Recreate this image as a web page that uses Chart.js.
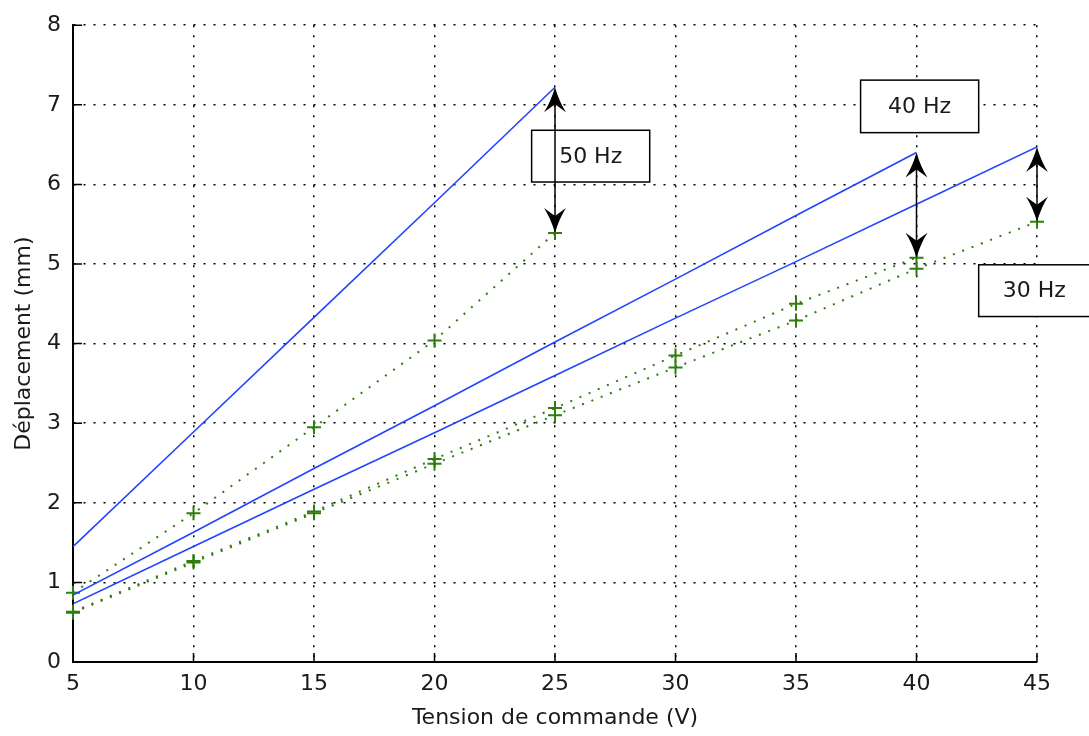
<!DOCTYPE html>
<html>
<head>
<meta charset="utf-8">
<script src="https://cdn.jsdelivr.net/npm/chart.js@4"></script>
<style>
  html, body { margin: 0; padding: 0; background: #fff; }
  #wrap { width: 1089px; height: 736px; }
</style>
</head>
<body>
<div id="wrap"><canvas id="c" width="1089" height="736"></canvas></div>
<script>
// ---- data ----
const voltages50 = [5, 10, 15, 20, 25];
const measured50 = [0.87, 1.87, 2.95, 4.04, 5.39];
const fit50      = [1.45, 2.89, 4.33, 5.77, 7.22];

const voltages40 = [5, 10, 15, 20, 25, 30, 35, 40];
const measured40 = [0.63, 1.27, 1.89, 2.55, 3.19, 3.85, 4.50, 5.08];
const fit40      = [0.84, 1.63, 2.43, 3.22, 4.02, 4.81, 5.61, 6.40];

const voltages30 = [5, 10, 15, 20, 25, 30, 35, 40, 45];
const measured30 = [0.62, 1.25, 1.87, 2.49, 3.10, 3.70, 4.29, 4.94, 5.53];
const fit30      = [0.73, 1.45, 2.17, 2.88, 3.60, 4.32, 5.03, 5.75, 6.47];

const frequencyLabels = ['50 Hz', '40 Hz', '30 Hz'];
const xTitle = 'Tension de commande (V)';
const yTitle = 'Déplacement (mm)';

const pts = (xs, ys) => xs.map((x, i) => ({ x: x, y: ys[i] }));

const BLUE = '#2244ff';
const GREEN = '#2f7d0c';
const FONT = 'DejaVu Sans';
const FS = 22;

// label boxes (data coordinates) and arrows (from fit end to measured end)
const boxes = [
  { text: frequencyLabels[0], x0: 24.03, x1: 28.93, y0: 6.03, y1: 6.68, tx: 0.5 },
  { text: frequencyLabels[1], x0: 37.68, x1: 42.58, y0: 6.65, y1: 7.31, tx: 0.5 },
  { text: frequencyLabels[2], x0: 42.58, x1: 47.60, y0: 4.34, y1: 4.99, tx: 0.46 }
];
const arrows = [
  { x: voltages50[voltages50.length - 1], yTop: fit50[fit50.length - 1], yBot: measured50[measured50.length - 1] },
  { x: voltages40[voltages40.length - 1], yTop: fit40[fit40.length - 1], yBot: measured40[measured40.length - 1] },
  { x: voltages30[voltages30.length - 1], yTop: fit30[fit30.length - 1], yBot: measured30[measured30.length - 1] }
];

const innerTicks = {
  id: 'innerTicks',
  beforeDatasetsDraw(chart) {
    const { ctx, chartArea: a, scales: { x, y } } = chart;
    ctx.save();
    ctx.setLineDash([]);
    ctx.strokeStyle = '#000';
    ctx.lineWidth = 1.5;
    ctx.beginPath();
    x.ticks.forEach(t => {
      const px = x.getPixelForValue(t.value);
      ctx.moveTo(px, a.bottom);
      ctx.lineTo(px, a.bottom - 9);
    });
    y.ticks.forEach(t => {
      const py = y.getPixelForValue(t.value);
      ctx.moveTo(a.left, py);
      ctx.lineTo(a.left + 9, py);
    });
    ctx.stroke();
    // solid left and bottom axes
    ctx.lineWidth = 2;
    ctx.beginPath();
    ctx.moveTo(a.left, a.top);
    ctx.lineTo(a.left, a.bottom);
    ctx.lineTo(a.right, a.bottom);
    ctx.stroke();
    ctx.restore();
  }
};

function drawHead(ctx, x, y, dir) {
  // dir = -1 pointing up, +1 pointing down
  const L = 25, W = 11, N = 17;
  ctx.beginPath();
  ctx.moveTo(x, y);
  ctx.quadraticCurveTo(x - W * 0.4, y - dir * L * 0.6, x - W, y - dir * L);
  ctx.lineTo(x, y - dir * N);
  ctx.lineTo(x + W, y - dir * L);
  ctx.quadraticCurveTo(x + W * 0.4, y - dir * L * 0.6, x, y);
  ctx.closePath();
  ctx.fill();
}

const annotations = {
  id: 'annotations',
  afterDatasetsDraw(chart) {
    const { ctx, scales: { x, y } } = chart;
    ctx.save();
    ctx.setLineDash([]);
    boxes.forEach(b => {
      const l = x.getPixelForValue(b.x0), r = x.getPixelForValue(b.x1);
      const t = y.getPixelForValue(b.y1), bt = y.getPixelForValue(b.y0);
      ctx.fillStyle = '#fff';
      ctx.fillRect(l, t, r - l, bt - t);
      ctx.strokeStyle = '#000';
      ctx.lineWidth = 1.5;
      ctx.strokeRect(l, t, r - l, bt - t);
      ctx.fillStyle = '#1a1a1a';
      ctx.font = FS + 'px "' + FONT + '"';
      ctx.textAlign = 'center';
      ctx.textBaseline = 'middle';
      ctx.fillText(b.text, l + (r - l) * b.tx, (t + bt) / 2 + 1);
    });
    arrows.forEach(a => {
      const px = x.getPixelForValue(a.x);
      const pt = y.getPixelForValue(a.yTop), pb = y.getPixelForValue(a.yBot);
      ctx.strokeStyle = '#000';
      ctx.lineWidth = 1.5;
      ctx.beginPath();
      ctx.moveTo(px, pt + 12);
      ctx.lineTo(px, pb - 12);
      ctx.stroke();
      ctx.fillStyle = '#000';
      drawHead(ctx, px, pt, -1);
      drawHead(ctx, px, pb, 1);
    });
    ctx.restore();
  }
};

Chart.defaults.font.family = FONT;
Chart.defaults.font.size = FS;
Chart.defaults.color = '#1a1a1a';

const measuredLineStyle = {
  showLine: true,
  borderColor: GREEN,
  borderWidth: 2,
  borderDash: [2, 8],
  pointRadius: 0,
  tension: 0
};
const markerStyle = {
  showLine: false,
  clip: false,
  pointStyle: 'cross',
  pointRadius: 7,
  pointBorderWidth: 2,
  pointBorderColor: GREEN,
  pointBackgroundColor: GREEN
};
const fitStyle = {
  showLine: true,
  borderColor: BLUE,
  borderWidth: 1.6,
  pointRadius: 0,
  tension: 0
};

new Chart(document.getElementById('c'), {
  type: 'scatter',
  data: {
    datasets: [
      Object.assign({ label: 'fit ' + frequencyLabels[0], data: pts(voltages50, fit50) }, fitStyle),
      Object.assign({ label: 'fit ' + frequencyLabels[1], data: pts(voltages40, fit40) }, fitStyle),
      Object.assign({ label: 'fit ' + frequencyLabels[2], data: pts(voltages30, fit30) }, fitStyle),
      Object.assign({ label: frequencyLabels[0], data: pts(voltages50, measured50) }, measuredLineStyle),
      Object.assign({ label: frequencyLabels[1], data: pts(voltages40, measured40) }, measuredLineStyle),
      Object.assign({ label: frequencyLabels[2], data: pts(voltages30, measured30) }, measuredLineStyle),
      Object.assign({ label: frequencyLabels[0] + ' +', data: pts(voltages50, measured50) }, markerStyle),
      Object.assign({ label: frequencyLabels[1] + ' +', data: pts(voltages40, measured40) }, markerStyle),
      Object.assign({ label: frequencyLabels[2] + ' +', data: pts(voltages30, measured30) }, markerStyle)
    ]
  },
  options: {
    responsive: false,
    animation: false,
    layout: { padding: { top: 21, right: 52, left: 0, bottom: 0 } },
    plugins: { legend: { display: false }, tooltip: { enabled: false } },
    scales: {
      x: {
        type: 'linear',
        min: 5, max: 45,
        ticks: { stepSize: 5, padding: 9, color: '#1a1a1a', font: { size: FS } },
        grid: { color: '#000', lineWidth: 1.5, drawTicks: false },
        border: { display: true, color: '#000', width: 1.5, dash: [2, 8] },
        title: { display: true, text: xTitle, color: '#1a1a1a', font: { size: FS }, padding: { top: 4, bottom: 5 } },
        afterFit(s) { s.height = 74; }
      },
      y: {
        type: 'linear',
        min: 0, max: 8,
        ticks: { stepSize: 1, padding: 12, color: '#1a1a1a', font: { size: FS } },
        grid: { color: '#000', lineWidth: 1.5, drawTicks: false },
        border: { display: true, color: '#000', width: 1.5, dash: [2, 8] },
        title: { display: true, text: yTitle, color: '#1a1a1a', font: { size: FS }, padding: { top: 11, bottom: 4 } },
        afterFit(s) { s.width = 73; }
      }
    }
  },
  plugins: [innerTicks, annotations]
});
</script>
</body>
</html>
